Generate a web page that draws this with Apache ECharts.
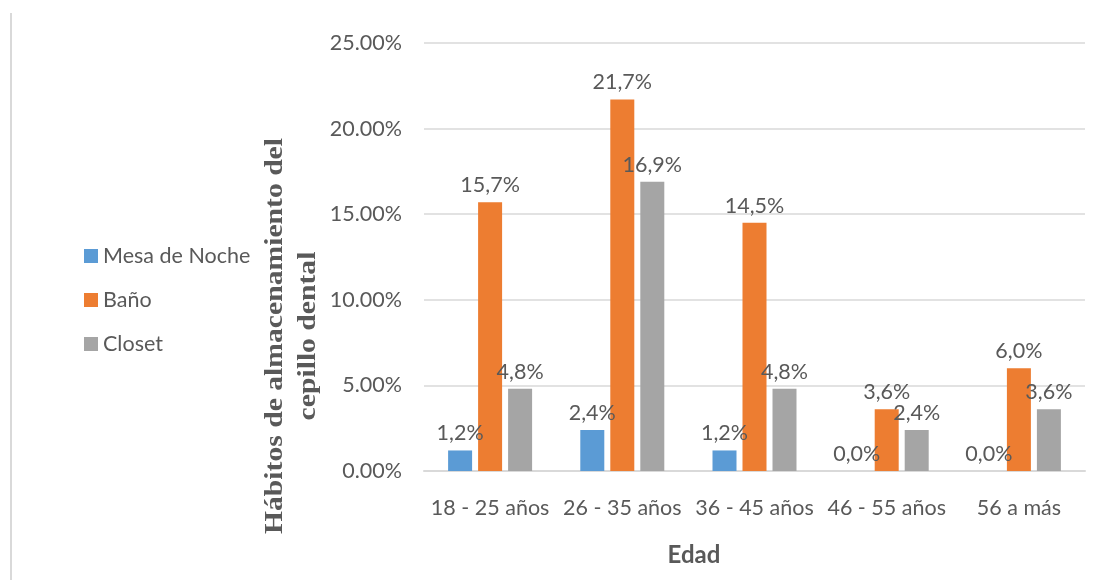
<!DOCTYPE html>
<html>
<head>
<meta charset="utf-8">
<script src="https://cdn.jsdelivr.net/npm/echarts@6/dist/echarts.min.js"></script>
<style>
  html, body { margin: 0; padding: 0; background: #fff; }
  #chart { width: 1099px; height: 581px; }
</style>
</head>
<body>
<div id="chart"></div>
<script>
// data (percent)
const categories = ["18 - 25 años", "26 - 35 años", "36 - 45 años", "46 - 55 años", "56 a más"];
const mesaDeNoche = [1.2, 2.4, 1.2, 0.0, 0.0];
const bano = [15.7, 21.7, 14.5, 3.6, 6.0];
const closet = [4.8, 16.9, 4.8, 2.4, 3.6];
const yTicks = [0, 5, 10, 15, 20, 25];

const textColor = "#595959";
const font = "Lato, 'Open Sans', sans-serif";

const dom = document.getElementById("chart");
const chart = echarts.init(dom, null, { renderer: "canvas" });

const labelOpt = {
  show: true,
  position: "top",
  distance: 6,
  color: textColor,
  fontFamily: font,
  fontSize: 21.5,
  formatter: (p) => p.value.toFixed(1).replace(".", ",") + "%",
};

const option = {
  animation: false,
  color: ["#5B9BD5", "#ED7D31", "#A5A5A5"],
  grid: { left: 424, right: 14, top: 43, bottom: 110 },
  legend: {
    orient: "vertical",
    left: 79,
    top: 240,
    itemWidth: 14,
    itemHeight: 14,
    itemGap: 22,
    icon: "rect",
    textStyle: { color: textColor, fontFamily: font, fontSize: 21.5 },
    data: ["Mesa de Noche", "Baño", "Closet"],
  },
  xAxis: {
    type: "category",
    data: categories,
    axisTick: { show: false },
    axisLine: { lineStyle: { color: "#D9D9D9", width: 2 } },
    axisLabel: { color: textColor, fontFamily: font, fontSize: 21.5, margin: 26, interval: 0 },
  },
  yAxis: {
    type: "value",
    min: yTicks[0],
    max: yTicks[yTicks.length - 1],
    interval: yTicks[1] - yTicks[0],
    axisLine: { show: false },
    axisTick: { show: false },
    splitLine: { lineStyle: { color: "#D9D9D9", width: 1.5 } },
    axisLabel: {
      color: textColor,
      fontFamily: font,
      fontSize: 21.5,
      margin: 22,
      formatter: (v) => v.toFixed(2) + "%",
    },
  },
  graphic: [
    {
      type: "line",
      shape: { x1: 11, y1: 13, x2: 11, y2: 580 },
      style: { stroke: "#D9D9D9", lineWidth: 2 },
      silent: true,
    },
    {
      type: "text",
      x: 292,
      y: 336,
      rotation: Math.PI / 2,
      scaleX: 1.14,
      style: {
        text: "Hábitos de almacenamiento del\ncepillo dental",
        fill: textColor,
        font: "bold 26px 'Liberation Serif', 'DejaVu Serif', serif",
        lineHeight: 33,
        align: "center",
        verticalAlign: "middle",
      },
      silent: true,
    },
    {
      type: "text",
      x: 694,
      y: 555,
      style: {
        text: "Edad",
        fill: textColor,
        font: "bold 24px Lato, 'Open Sans', sans-serif",
        align: "center",
        verticalAlign: "middle",
      },
      silent: true,
    },
  ],
  series: [
    { name: "Mesa de Noche", type: "bar", data: mesaDeNoche, barWidth: 24, barGap: "25%", label: labelOpt },
    { name: "Baño", type: "bar", data: bano, barWidth: 24, barGap: "25%", label: labelOpt },
    { name: "Closet", type: "bar", data: closet, barWidth: 24, barGap: "25%", label: labelOpt },
  ],
};

chart.setOption(option);
</script>
</body>
</html>
